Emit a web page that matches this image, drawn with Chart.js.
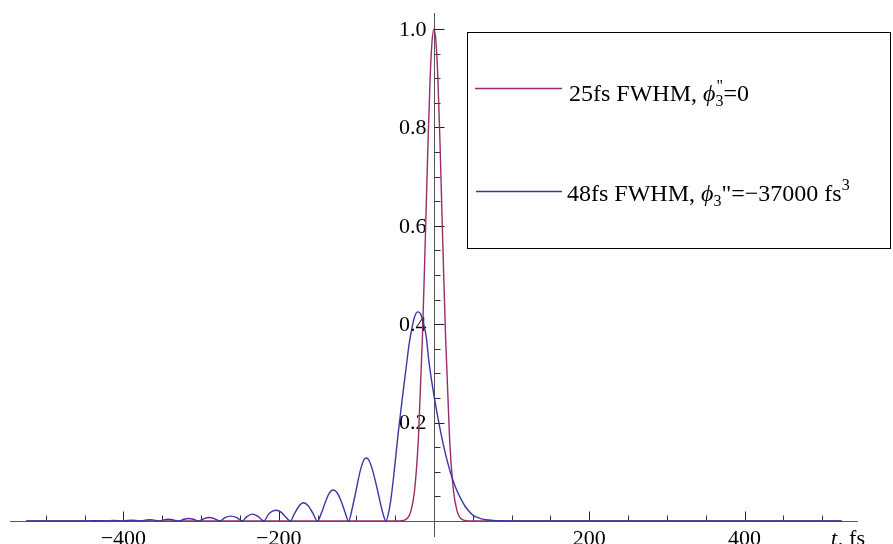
<!DOCTYPE html>
<html>
<head>
<meta charset="utf-8">
<title>Pulse intensity vs time</title>
<script src="https://cdn.jsdelivr.net/npm/chart.js@4/dist/chart.umd.min.js"></script>
<style>
  html, body { margin: 0; padding: 0; background: #ffffff; }
  #wrap { width: 893px; height: 544px; }
</style>
</head>
<body>
<div id="wrap"><canvas id="chart" width="893" height="544"></canvas></div>
<script>
// 25 fs transform-limited pulse: time (fs) and normalised intensity
const tShort = [-525, -50, -45, -40, -35, -30, -25, -20, -15, -12.5, -10, -7.5, -5, -2.5, 0,
                2.5, 5, 7.5, 10, 12.5, 15, 20, 25, 30, 35, 40, 45, 50, 525];
const iShort = [0, 0, 0.0002, 0.001, 0.0045, 0.0185, 0.0625, 0.17, 0.37, 0.5, 0.64, 0.78, 0.9, 0.975, 1,
                0.975, 0.9, 0.78, 0.64, 0.5, 0.37, 0.17, 0.0625, 0.0185, 0.0045, 0.001, 0.0002, 0, 0];

// 48 fs pulse with third-order phase: time (fs) and intensity
const tLong = [-525, -446, -440, -435, -429, -424, -418, -413, -407, -401, -395, -390, -384, -378,
               -372, -366, -360, -354, -348, -342, -336, -329, -322, -316, -310, -303, -296, -290,
               -283, -276, -269, -262, -254, -247, -241, -234, -227, -219, -213, -208, -203, -197,
               -191, -185, -180, -174, -168, -162, -156, -150, -145, -140, -135, -130, -125, -120,
               -115, -110, -105, -100, -95, -90, -87, -84, -80, -75, -70, -66, -62, -58, -55, -52,
               -49, -46, -43, -40, -36, -32, -28, -25, -21, -17, -13, -10, -7, -4, 0, 5, 10, 15,
               20, 25, 30, 35, 40, 45, 50, 60, 70, 80, 100, 525];
const iLong = [0, 0, 0.0005, 0.0007, 0.0005, 0, 0.0007, 0.001, 0.0007, 0, 0.001, 0.0015, 0.001, 0,
               0.0017, 0.0025, 0.0017, 0, 0.0024, 0.0035, 0.0024, 0, 0.0035, 0.005, 0.0035, 0, 0.005, 0.007,
               0.005, 0, 0.007, 0.010, 0.007, 0, 0.009, 0.014, 0.010, 0, 0.014, 0.020, 0.022, 0.018,
               0.008, 0, 0.014, 0.030, 0.037, 0.031, 0.016, 0, 0.016, 0.038, 0.056, 0.063, 0.058, 0.042,
               0.020, 0, 0.028, 0.065, 0.102, 0.125, 0.128, 0.124, 0.108, 0.078, 0.043, 0.017, 0, 0.02, 0.05, 0.09,
               0.135, 0.18, 0.22, 0.26, 0.31, 0.36, 0.395, 0.415, 0.425, 0.42, 0.397, 0.375, 0.33, 0.295, 0.255, 0.21, 0.17, 0.135,
               0.105, 0.08, 0.06, 0.044, 0.03, 0.02, 0.012, 0.005, 0.002, 0.0008, 0, 0];

// Axis ticks and labels
const xMajorTicks = [-400, -200, 200, 400];
const xMajorLabels = ['\u2212400', '\u2212200', '200', '400'];
const xMinorTicks = [-500, -450, -350, -300, -250, -150, -100, -50, 50, 100, 150, 250, 300, 350, 450, 500];
const yMajorTicks = [0.2, 0.4, 0.6, 0.8, 1.0];
const yMajorLabels = ['0.2', '0.4', '0.6', '0.8', '1.0'];
const yMinorTicks = [0.05, 0.1, 0.15, 0.25, 0.3, 0.35, 0.45, 0.5, 0.55, 0.65, 0.7, 0.75, 0.85, 0.9, 0.95];

const colorShort = '#9a2c6c';
const colorLong = '#3838a4';
const serif = '"Liberation Serif", "Times New Roman", serif';

const toPoints = (xs, ys) => xs.map((x, i) => ({ x: x, y: ys[i] }));

// Axes crossing at the origin, with ticks pointing into the plot
const originAxes = {
  id: 'originAxes',
  beforeDatasetsDraw(chart) {
    const ctx = chart.ctx;
    const xs = chart.scales.x, ys = chart.scales.y;
    const area = chart.chartArea;
    const x0 = Math.round(xs.getPixelForValue(0)) + 0.5;
    const y0 = Math.round(ys.getPixelForValue(0)) + 0.5;
    ctx.save();
    ctx.lineWidth = 1;
    ctx.strokeStyle = '#555555';
    ctx.beginPath();
    ctx.moveTo(area.left, y0); ctx.lineTo(area.right, y0);
    ctx.moveTo(x0, area.top); ctx.lineTo(x0, area.bottom);
    ctx.stroke();

    ctx.strokeStyle = '#222222';
    ctx.beginPath();
    xMajorTicks.forEach(v => {
      const px = Math.round(xs.getPixelForValue(v)) + 0.5;
      ctx.moveTo(px, y0); ctx.lineTo(px, y0 - 10);
    });
    yMajorTicks.forEach(v => {
      const py = Math.round(ys.getPixelForValue(v)) + 0.5;
      ctx.moveTo(x0, py); ctx.lineTo(x0 + 10, py);
    });
    ctx.stroke();
    ctx.strokeStyle = '#333333';
    ctx.beginPath();
    xMinorTicks.forEach(v => {
      const px = Math.round(xs.getPixelForValue(v)) + 0.5;
      ctx.moveTo(px, y0); ctx.lineTo(px, y0 - 6);
    });
    yMinorTicks.forEach(v => {
      const py = Math.round(ys.getPixelForValue(v)) + 0.5;
      ctx.moveTo(x0, py); ctx.lineTo(x0 + 6, py);
    });
    ctx.stroke();

    ctx.fillStyle = '#000000';
    ctx.font = '22px ' + serif;
    ctx.textAlign = 'center';
    ctx.textBaseline = 'alphabetic';
    xMajorTicks.forEach((v, i) => {
      ctx.fillText(xMajorLabels[i], xs.getPixelForValue(v), y0 + 23);
    });
    ctx.textAlign = 'right';
    ctx.textBaseline = 'middle';
    yMajorTicks.forEach((v, i) => {
      ctx.fillText(yMajorLabels[i], x0 - 8, ys.getPixelForValue(v) + 1);
    });

    // axis caption "t, fs"
    ctx.textAlign = 'left';
    ctx.textBaseline = 'alphabetic';
    ctx.font = 'italic 22px ' + serif;
    const cx = 831;
    ctx.fillText('t', cx, y0 + 23);
    const tw = ctx.measureText('t').width;
    ctx.font = '22px ' + serif;
    ctx.fillText(', fs', cx + tw + 1, y0 + 23);
    ctx.restore();
  }
};

// Draws a run of text pieces with their own fonts and vertical offsets
function drawRich(ctx, x, y, parts) {
  let cx = x;
  parts.forEach(p => {
    if (p.stack) {
      let w = 0;
      p.stack.forEach(s => {
        ctx.font = s.font;
        ctx.fillText(s.text, cx + (s.dx || 0), y + s.dy);
        w = Math.max(w, ctx.measureText(s.text).width + (s.dx || 0));
      });
      cx += w;
    } else {
      ctx.font = p.font;
      ctx.fillText(p.text, cx, y + (p.dy || 0));
      cx += ctx.measureText(p.text).width;
    }
  });
}

// Framed legend with subscripted and superscripted labels
const boxedLegend = {
  id: 'boxedLegend',
  afterDraw(chart) {
    const ctx = chart.ctx;
    const big = '24px ' + serif;
    const bigIt = 'italic 24px ' + serif;
    const small = '16px ' + serif;
    ctx.save();
    ctx.fillStyle = '#ffffff';
    ctx.fillRect(467, 32, 424, 217);
    ctx.strokeStyle = '#000000';
    ctx.lineWidth = 1;
    ctx.strokeRect(467.5, 32.5, 423, 216);

    ctx.lineWidth = 1.3;
    ctx.strokeStyle = colorShort;
    ctx.beginPath(); ctx.moveTo(475, 88.5); ctx.lineTo(562, 88.5); ctx.stroke();
    ctx.strokeStyle = colorLong;
    ctx.beginPath(); ctx.moveTo(476, 191.5); ctx.lineTo(562, 191.5); ctx.stroke();

    ctx.fillStyle = '#000000';
    ctx.textAlign = 'left';
    ctx.textBaseline = 'alphabetic';
    drawRich(ctx, 569, 101, [
      { text: '25fs FWHM, ', font: big },
      { text: '\u03D5', font: bigIt },
      { stack: [
          { text: '3', font: small, dy: 5 },
          { text: '"', font: small, dy: -10, dx: 1 }
        ] },
      { text: '=0', font: big }
    ]);
    drawRich(ctx, 567, 201, [
      { text: '48fs FWHM, ', font: big },
      { text: '\u03D5', font: bigIt },
      { text: '3', font: small, dy: 5 },
      { text: '"=\u221237000 fs', font: big },
      { text: '3', font: small, dy: -11 }
    ]);
    ctx.restore();
  }
};

new Chart(document.getElementById('chart'), {
  type: 'line',
  data: {
    datasets: [
      {
        label: '48fs FWHM',
        data: toPoints(tLong, iLong),
        borderColor: colorLong,
        borderWidth: 1.4,
        pointRadius: 0,
        cubicInterpolationMode: 'monotone',
        fill: false
      },
      {
        label: '25fs FWHM',
        data: toPoints(tShort, iShort),
        borderColor: colorShort,
        borderWidth: 1.4,
        pointRadius: 0,
        cubicInterpolationMode: 'monotone',
        fill: false
      }
    ]
  },
  options: {
    responsive: false,
    devicePixelRatio: 1,
    animation: false,
    layout: { padding: { left: 10, right: 35, top: 13, bottom: 7 } },
    scales: {
      x: { type: 'linear', min: -546, max: 546, display: false },
      y: { type: 'linear', min: -0.0325, max: 1.0325, display: false }
    },
    plugins: {
      legend: { display: false },
      tooltip: { enabled: false }
    }
  },
  plugins: [originAxes, boxedLegend]
});
</script>
</body>
</html>
